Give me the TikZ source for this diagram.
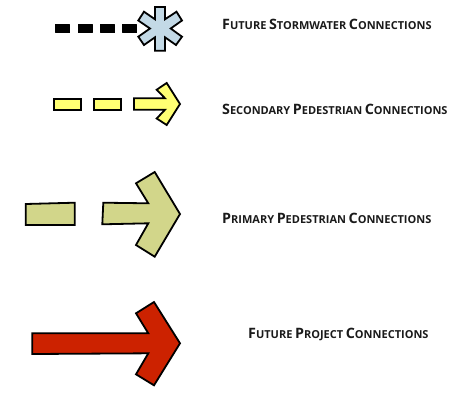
\documentclass[tikz,border=0pt]{standalone}
\usepackage{fontspec}
\setmainfont{Open Sans}
\newcommand\SmCp[2]{{\fontsize{14.3}{17}\selectfont #1}{\fontsize{11}{17}\selectfont #2}}
\tikzset{
  x=1pt,y=-1pt,
  shape outline/.style={draw=black,line width=1.8pt,line join=miter},
  storm dash/.style={fill=black,draw=black,line width=1pt,line join=round},
  storm/.style={shape outline,fill=stormblue},
  secondary/.style={shape outline,fill=pedyellow},
  primary/.style={shape outline,fill=pedgreen},
  project/.style={shape outline,fill=projred},
  legend label/.style={inner sep=0pt,anchor=west,font=\bfseries,text=labelgray}
}
\definecolor{stormblue}{HTML}{C3D9E6}
\definecolor{pedyellow}{HTML}{FFFF73}
\definecolor{pedgreen}{HTML}{D2D68A}
\definecolor{projred}{HTML}{CC2200}
\definecolor{labelgray}{HTML}{1A1A1A}
\begin{document}
\begin{tikzpicture}
\useasboundingbox (0,0) rectangle (458,392);
% stormwater
\foreach \a/\b in {55.5/69.5,78/92,100.5/114.5,122.5/136.5}
  \draw[storm dash] (\a,24.5) rectangle (\b,32.5);
\draw[storm] (155,7)--(165,7)--(165,19.3)--(176.5,11.7)--(182,20.5)--(170.7,28.5)--(182,36.7)--(176,45)--(165,37.3)--(165,50.7)--(155,50.7)--(155,37.3)--(144,45)--(138.3,36.7)--(150,28.5)--(138.3,20.5)--(144,11.7)--(155,19.3)--cycle;
% secondary
\draw[secondary] (54,98.7) rectangle (81,110);
\draw[secondary] (94,98.7) rectangle (121,110);
\draw[secondary] (134,98.3)--(165,98.3)--(156.7,89.7)--(166.7,83)--(180,104)--(166.7,125)--(156.7,118.5)--(165,109.7)--(134,109.7)--cycle;
% primary
\draw[primary] (25.7,204)--(74.7,202.7)--(74.7,225)--(25.7,225)--cycle;
\draw[primary] (103.3,202.7)--(148.3,203.3)--(136,183.3)--(154.7,172)--(180,214)--(154.7,256.7)--(136,245)--(148.3,223.3)--(102.3,224.3)--cycle;
% project
\draw[project] (32.3,333.3)--(148.3,333.3)--(136,313.3)--(154,302)--(180,343.3)--(154,385.3)--(136,374.3)--(148.3,353.3)--(32.3,354)--cycle;
% labels
\node[legend label] (l1) at (222,24) {\SmCp{F}{UTURE} \SmCp{S}{TORMWATER} \SmCp{C}{ONNECTIONS}};
\node[legend label] (l2) at (222,109) {\SmCp{S}{ECONDARY} \SmCp{P}{EDESTRIAN} \SmCp{C}{ONNECTIONS}};
\node[legend label] (l3) at (222,218) {\SmCp{P}{RIMARY} \SmCp{P}{EDESTRIAN} \SmCp{C}{ONNECTIONS}};
\node[legend label] (l4) at (248,334) {\SmCp{F}{UTURE} \SmCp{P}{ROJECT} \SmCp{C}{ONNECTIONS}};
\end{tikzpicture}
\end{document}
